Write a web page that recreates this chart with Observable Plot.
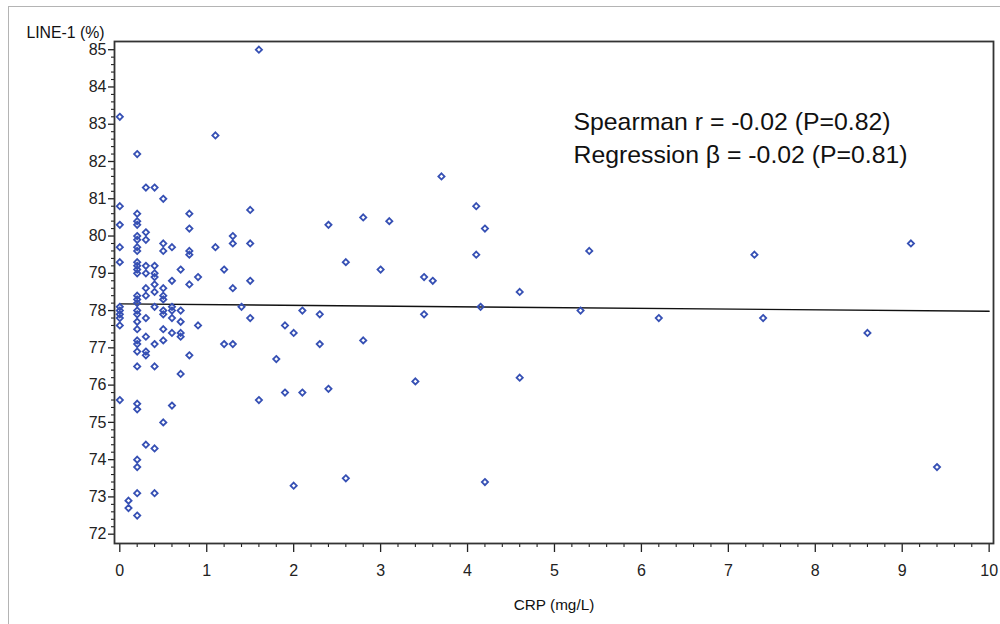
<!DOCTYPE html>
<html><head><meta charset="utf-8">
<script src="https://cdn.jsdelivr.net/npm/d3@7"></script>
<script src="https://cdn.jsdelivr.net/npm/@observablehq/plot@0.6"></script>
<style>
body{margin:0;background:#fff;}
#wrap{position:relative;width:1000px;height:624px;overflow:hidden;}
#border{position:absolute;left:8px;top:6px;right:-4px;bottom:-4px;border-left:1.5px solid #b4b4b4;border-top:1.5px solid #b4b4b4;}
#chart{position:absolute;left:0;top:0;}
#chart g[aria-label$="tick label"]{font-size:16px;}
</style></head><body>
<div id="wrap"><div id="border"></div><div id="chart"></div></div>
<script>
// CRP values (mg/L) and the LINE-1 (%) values observed at each CRP level
const crpLevels = [0, 0.1, 0.2, 0.3, 0.4, 0.5, 0.6, 0.7, 0.8, 0.9, 1.1, 1.2, 1.3, 1.4, 1.5, 1.6, 1.8, 1.9, 2.0, 2.1, 2.3, 2.4, 2.6, 2.8, 3.0, 3.1, 3.4, 3.5, 3.6, 3.7, 4.1, 4.2, 4.15, 4.6, 5.3, 5.4, 6.2, 7.3, 7.4, 8.6, 9.1, 9.4];
const line1Groups = [
  [83.2, 80.8, 80.3, 79.7, 79.3, 78.1, 78.0, 77.9, 77.8, 77.6, 75.6],
  [72.9, 72.7],
  [82.2, 80.6, 80.4, 80.3, 80.0, 79.9, 79.7, 79.6, 79.3, 79.2, 79.1, 79.0, 78.4, 78.3, 78.2, 78.0, 77.9, 77.7, 77.5, 77.2, 77.1, 76.9, 76.5, 75.5, 75.35, 74.0, 73.8, 73.1, 72.5],
  [81.3, 80.1, 79.9, 79.2, 79.0, 78.6, 78.4, 77.8, 77.3, 76.9, 76.8, 74.4],
  [81.3, 79.2, 79.0, 78.9, 78.7, 78.5, 78.1, 77.1, 76.5, 74.3, 73.1],
  [81.0, 79.8, 79.6, 78.6, 78.4, 78.3, 78.0, 77.9, 77.5, 77.2, 75.0],
  [79.7, 78.8, 78.1, 78.0, 77.8, 77.4, 75.45],
  [79.1, 78.0, 77.7, 77.4, 77.3, 76.3],
  [80.6, 80.2, 79.6, 79.5, 78.7, 76.8],
  [78.9, 77.6],
  [82.7, 79.7],
  [79.1, 77.1],
  [80.0, 79.8, 78.6, 77.1],
  [78.1],
  [80.7, 79.8, 78.8, 77.8],
  [85.0, 75.6],
  [76.7],
  [77.6, 75.8],
  [77.4, 73.3],
  [78.0, 75.8],
  [77.9, 77.1],
  [80.3, 75.9],
  [79.3, 73.5],
  [80.5, 77.2],
  [79.1],
  [80.4],
  [76.1],
  [78.9, 77.9],
  [78.8],
  [81.6],
  [80.8, 79.5],
  [80.2, 73.4],
  [78.1],
  [78.5, 76.2],
  [78.0],
  [79.6],
  [77.8],
  [79.5],
  [77.8],
  [77.4],
  [79.8],
  [73.8]
];
// fitted regression line end points
const regCrp = [0, 10];
const regLine1 = [78.18, 77.98];
// axis ticks and texts
const xTicks = [0, 1, 2, 3, 4, 5, 6, 7, 8, 9, 10];
const yTicks = [72, 73, 74, 75, 76, 77, 78, 79, 80, 81, 82, 83, 84, 85];
const yTitle = "LINE-1 (%)";
const xTitle = "CRP (mg/L)";
const statText1 = "Spearman r = -0.02 (P=0.82)";
const statText2 = "Regression β = -0.02 (P=0.81)";

const points = crpLevels.flatMap((c, i) => line1Groups[i].map(v => ({crp: c, line1: v})));
const reg = regCrp.map((c, i) => ({crp: c, line1: regLine1[i]}));
const xMinor = d3.range(0, 10.001, 0.2).map(v => +v.toFixed(1)).filter(v => !xTicks.includes(v));
const yMinor = d3.range(72, 85.001, 0.2).map(v => +v.toFixed(1)).filter(v => !yTicks.includes(v));

const font = "'Liberation Sans', Arial, Helvetica, sans-serif";
const chart = Plot.plot({
  width: 1000,
  height: 624,
  marginLeft: 114,
  marginRight: 7,
  marginTop: 41,
  marginBottom: 81,
  style: {fontFamily: font, fontSize: "15px", color: "#222", background: "transparent", overflow: "visible"},
  x: {domain: [-0.061, 10.05]},
  y: {domain: [71.75, 85.22]},
  marks: [
    Plot.axisY(yTicks, {tickSize: 6, tickPadding: 2, fontSize: 16, label: null, strokeWidth: 1.3}),
    Plot.axisY(yMinor, {tickSize: 3, tickFormat: () => "", label: null, strokeWidth: 1.1}),
    Plot.axisX(xTicks, {tickSize: 9, tickPadding: 12, fontSize: 16, label: null, strokeWidth: 1.3}),
    Plot.axisX(xMinor, {tickSize: 4, tickFormat: () => "", label: null, strokeWidth: 1.1}),
    Plot.line(reg, {x: "crp", y: "line1", stroke: "#111", strokeWidth: 1.4}),
    Plot.dot(points, {x: "crp", y: "line1", symbol: "diamond2", r: 2.8, stroke: "#3650b4", strokeWidth: 1.8, fill: "none"}),
    Plot.frame({stroke: "#333", strokeWidth: 1.8}),
    Plot.text([statText1], {frameAnchor: "top-left", dx: 459, dy: 81, textAnchor: "start", lineAnchor: "middle", fontSize: 24.8, fill: "#111"}),
    Plot.text([statText2], {frameAnchor: "top-left", dx: 459, dy: 114, textAnchor: "start", lineAnchor: "middle", fontSize: 24.8, fill: "#111"}),
    Plot.text([yTitle], {frameAnchor: "top-left", dx: -10, dy: -9, textAnchor: "end", lineAnchor: "middle", fontSize: 15.8, fill: "#111"}),
    Plot.text([xTitle], {frameAnchor: "bottom", dy: 62, lineAnchor: "middle", fontSize: 15.3, fill: "#111"})
  ]
});
document.getElementById("chart").appendChild(chart);
</script>
</body></html>
